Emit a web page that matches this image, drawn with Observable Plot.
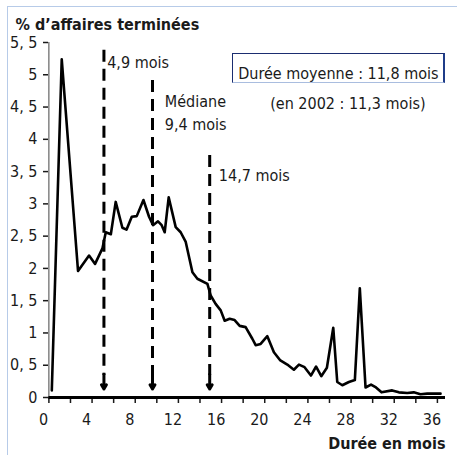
<!DOCTYPE html>
<html><head><meta charset="utf-8">
<script src="https://cdn.jsdelivr.net/npm/d3@7"></script>
<script src="https://cdn.jsdelivr.net/npm/@observablehq/plot@0.6"></script>
<style>
html,body{margin:0;padding:0;background:#fff;}
#wrap{position:relative;width:457px;height:455px;overflow:hidden;background:#fff;}
#wrap svg{position:absolute;left:0;top:0;}
#frame{position:absolute;left:7px;top:6px;width:480px;height:480px;border-top:1.5px solid #b7cbe8;border-left:1.5px solid #b7cbe8;}
#box{position:absolute;left:232px;top:53px;width:210px;height:28px;border:1px solid #1b2d70;border-right:2.5px solid #1f3c88;border-bottom:1px solid #a9bddf;}
</style></head>
<body><div id="wrap"></div>
<script>
// Distribution of case durations (x = month position on the axis, y = % of cases)
const months = [0.77,1.69,3.20,4.22,4.78,5.46,5.77,6.24,6.69,7.31,7.69,8.18,8.64,9.26,9.78,10.15,10.61,10.95,11.23,11.60,12.25,12.71,13.18,13.80,14.26,15.19,15.49,15.95,16.42,16.79,17.25,17.71,18.18,18.73,19.35,19.66,20.12,20.74,21.35,21.91,22.59,23.20,23.67,24.19,24.78,25.26,25.74,26.26,26.85,27.22,27.69,28.30,28.85,29.31,29.84,30.35,30.81,31.32,32.31,32.93,33.70,34.31,34.93,35.56,36.79];
const shares = [0.11,5.24,1.96,2.20,2.07,2.31,2.56,2.53,3.03,2.63,2.60,2.80,2.81,3.06,2.80,2.67,2.73,2.67,2.56,3.10,2.64,2.56,2.41,1.94,1.84,1.76,1.58,1.45,1.35,1.19,1.22,1.20,1.11,1.09,0.91,0.81,0.83,0.95,0.70,0.58,0.51,0.43,0.51,0.47,0.34,0.48,0.33,0.46,1.08,0.24,0.19,0.24,0.27,1.69,0.155,0.20,0.155,0.08,0.11,0.08,0.07,0.08,0.05,0.06,0.06];

// Quartile markers
const quartileX = [5.6, 10.1, 15.4];
const quartileTop = [5.38, 4.91, 3.75];
const quartileLabels = ["4,9 mois", "Médiane\n9,4 mois", "14,7 mois"];
const labelX = [5.9, 11.24, 16.25];
const labelY = [5.10, 4.15, 3.36];

// Axes
const yTicks = [0,0.5,1,1.5,2,2.5,3,3.5,4,4.5,5,5.5];
const xLabels = [0,4,8,12,16,20,24,28,32,36];
const xMinorTicks = [0.5,2.5,4.5,6.5,8.5,10.5,12.5,14.5,16.5,18.5,20.5,22.5,24.5,26.5,28.5,30.5,32.5,34.5,36.5];
const axisStart = 0.5, axisEnd = 37.25;

const title = "% d’affaires terminées";
const xTitle = "Durée en mois";
const meanText = "Durée moyenne : 11,8 mois";
const prevText = "(en 2002 : 11,3 mois)";

const fontFamily = '"DejaVu Sans Condensed","Liberation Sans Narrow",sans-serif';
const fs = 16;
const data = months.map((m, i) => ({m, v: shares[i]}));
const arrows = quartileX.map((x, i) => ({x, top: quartileTop[i], label: quartileLabels[i], lx: labelX[i], ly: labelY[i]}));
const fmtY = d => d === 0 ? "0" : Number.isInteger(d) ? String(d) : String(d).replace(".", ", ");

const chart = Plot.plot({
  width: 457, height: 455,
  marginLeft: 43, marginRight: 12, marginTop: 42, marginBottom: 58,
  style: {fontFamily, fontSize: fs + "px", color: "#1a1a1a", background: "transparent"},
  x: {domain: [0, axisEnd]},
  y: {domain: [0, 5.5]},
  marks: [
    Plot.axisY({ticks: yTicks, tickSize: 5, dx: 5, tickPadding: 6, tickFormat: fmtY, label: null, fontSize: fs, strokeWidth: 1.5}),
    Plot.ruleX([axisStart], {y1: 0, y2: 5.5, stroke: "#444", strokeWidth: 1}),
    Plot.axisX({ticks: xMinorTicks, tickSize: 6, fill: "none", label: null, strokeWidth: 1.5}),
    Plot.axisX({ticks: xLabels, tickSize: 0, tickPadding: 16, tickFormat: d => String(d), label: null, fontSize: fs}),
    Plot.ruleY([0], {x1: axisStart, x2: axisEnd, strokeWidth: 3, stroke: "#000"}),
    Plot.line(data, {x: "m", y: "v", stroke: "#000", strokeWidth: 2.6}),
    Plot.ruleX(arrows, {x: "x", y1: "top", y2: 0.34, stroke: "#000", strokeWidth: 3, strokeDasharray: "12,7"}),
    Plot.arrow(arrows, {x1: "x", x2: "x", y1: 0.36, y2: 0.13, stroke: "#000", strokeWidth: 3, headLength: 8}),
    Plot.text(arrows, {x: "lx", y: "ly", text: "label", textAnchor: "start", lineAnchor: "bottom", lineHeight: 1.4, fontSize: fs}),
    Plot.text([title], {text: d => d, frameAnchor: "top-left", dx: -28, dy: -13, textAnchor: "start", lineAnchor: "bottom", fontWeight: "bold", fontSize: fs}),
    Plot.text([xTitle], {text: d => d, frameAnchor: "bottom-right", dy: 51, textAnchor: "end", lineAnchor: "bottom", fontWeight: "bold", fontSize: fs}),
    Plot.text([meanText], {text: d => d, frameAnchor: "top-right", dx: -7, dy: 36, textAnchor: "end", lineAnchor: "bottom", fontSize: fs}),
    Plot.text([prevText], {text: d => d, frameAnchor: "top-right", dx: -20, dy: 66, textAnchor: "end", lineAnchor: "bottom", fontSize: fs})
  ]
});
const wrap = document.getElementById("wrap");
wrap.appendChild(chart);
const frame = document.createElement("div"); frame.id = "frame"; wrap.appendChild(frame);
const box = document.createElement("div"); box.id = "box"; wrap.appendChild(box);
</script>
</body></html>
